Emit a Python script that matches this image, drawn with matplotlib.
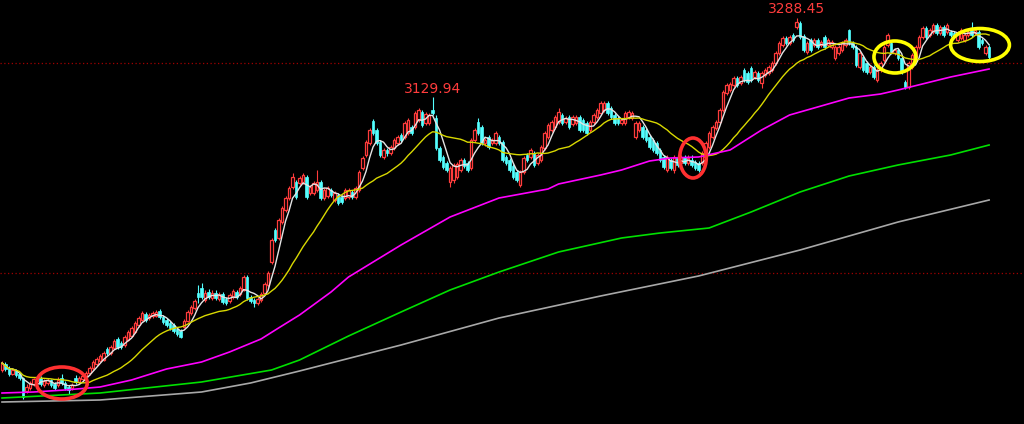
import numpy as np
import pandas as pd
import matplotlib
matplotlib.use("Agg")
import matplotlib.pyplot as plt
from matplotlib.patches import Ellipse

# daily candles
opens = [
    2584, 2596, 2588, 2576, 2584, 2576, 2568, 2542, 2548, 2556,
    2562, 2568, 2554, 2558, 2564, 2556, 2554, 2568, 2558, 2550,
    2548, 2568, 2560, 2566, 2568, 2578, 2588, 2596, 2602, 2604,
    2626, 2618, 2628, 2646, 2638, 2634, 2644, 2652, 2660, 2674,
    2684, 2696, 2688, 2692, 2692, 2702, 2690, 2684, 2678, 2674,
    2666, 2662, 2670, 2682, 2698, 2708, 2738, 2748, 2724, 2740,
    2728, 2738, 2726, 2736, 2726, 2722, 2730, 2740, 2736, 2744,
    2770, 2730, 2724, 2718, 2724, 2738, 2754, 2800, 2864, 2848,
    2880, 2904, 2928, 2950, 2960, 2958, 2960, 2970, 2938, 2938,
    2944, 2960, 2928, 2932, 2944, 2924, 2934, 2930, 2928, 2930,
    2940, 2930, 2944, 2988, 3014, 3038, 3082, 3064, 3040, 3010,
    3024, 3018, 3028, 3038, 3054, 3050, 3058, 3070, 3070, 3084,
    3100, 3078, 3078, 3104, 3088, 3028, 3010, 2998, 2960, 2964,
    2970, 2984, 3004, 2998, 2988, 3044, 3080, 3070, 3038, 3050,
    3038, 3038, 3050, 3040, 3010, 3004, 2992, 2980, 2954, 2980,
    3014, 3010, 3018, 2998, 3004, 3028, 3050, 3064, 3070, 3080,
    3094, 3080, 3090, 3076, 3078, 3090, 3084, 3078, 3064, 3080,
    3090, 3098, 3104, 3118, 3108, 3094, 3088, 3078, 3078, 3090,
    3088, 3050, 3064, 3070, 3064, 3050, 3044, 3038, 3024, 3010,
    2984, 3004, 2984, 3010, 2998, 3010, 2998, 3004, 3000, 2998,
    2998, 3010, 3030, 3050, 3068, 3080, 3104, 3138, 3144, 3154,
    3168, 3158, 3184, 3178, 3188, 3170, 3178, 3158, 3174, 3178,
    3184, 3198, 3218, 3234, 3248, 3238, 3254, 3270, 3278, 3252,
    3220, 3244, 3234, 3244, 3234, 3250, 3234, 3230, 3208, 3218,
    3224, 3234, 3264, 3238, 3230, 3190, 3210, 3198, 3180, 3190,
    3164, 3184, 3204, 3234, 3238, 3218, 3224, 3208, 3160, 3150,
    3190, 3210, 3230, 3250, 3268, 3254, 3260, 3274, 3258, 3270,
    3260, 3260, 3258, 3244, 3248, 3244, 3254, 3264, 3258, 3260,
    3244, 3218, 3230,
]
highs = [
    2602, 2600, 2592, 2588, 2586, 2580, 2570, 2556, 2562, 2568,
    2572, 2572, 2566, 2568, 2566, 2560, 2570, 2576, 2562, 2554,
    2558, 2574, 2572, 2576, 2582, 2592, 2604, 2610, 2616, 2622,
    2630, 2634, 2646, 2650, 2642, 2654, 2664, 2672, 2682, 2692,
    2702, 2700, 2698, 2702, 2704, 2706, 2694, 2688, 2682, 2678,
    2670, 2666, 2686, 2704, 2714, 2726, 2754, 2758, 2744, 2746,
    2744, 2744, 2740, 2740, 2730, 2738, 2746, 2744, 2752, 2774,
    2774, 2734, 2728, 2730, 2740, 2760, 2782, 2848, 2868, 2888,
    2912, 2932, 2952, 2978, 2964, 2972, 2978, 2974, 2954, 2962,
    2984, 2964, 2948, 2952, 2948, 2942, 2938, 2934, 2948, 2948,
    2944, 2952, 2984, 3012, 3044, 3068, 3086, 3068, 3044, 3028,
    3028, 3034, 3048, 3054, 3058, 3082, 3088, 3074, 3102, 3108,
    3104, 3100, 3098, 3129.94, 3094, 3032, 3014, 3002, 2992, 2998,
    3000, 3008, 3008, 3002, 3048, 3068, 3088, 3074, 3048, 3054,
    3048, 3062, 3054, 3044, 3014, 3008, 2996, 2984, 2984, 3012,
    3018, 3028, 3022, 3018, 3034, 3062, 3078, 3084, 3094, 3108,
    3098, 3092, 3094, 3094, 3094, 3094, 3088, 3082, 3084, 3098,
    3108, 3122, 3122, 3122, 3112, 3098, 3092, 3088, 3102, 3104,
    3102, 3082, 3082, 3074, 3068, 3054, 3048, 3042, 3028, 3014,
    3014, 3008, 3014, 3014, 3014, 3014, 3014, 3014, 3004, 3002,
    3022, 3042, 3062, 3074, 3084, 3108, 3144, 3158, 3160, 3172,
    3172, 3174, 3188, 3182, 3192, 3184, 3182, 3182, 3188, 3194,
    3202, 3222, 3242, 3252, 3252, 3254, 3258, 3288.45, 3282, 3256,
    3242, 3248, 3248, 3248, 3244, 3254, 3248, 3244, 3234, 3234,
    3242, 3248, 3266, 3242, 3234, 3222, 3214, 3202, 3194, 3194,
    3188, 3202, 3234, 3258, 3242, 3228, 3228, 3212, 3164, 3202,
    3218, 3234, 3254, 3272, 3272, 3268, 3278, 3278, 3274, 3274,
    3278, 3264, 3262, 3262, 3268, 3258, 3264, 3280, 3268, 3264,
    3248, 3234, 3234,
]
lows = [
    2580, 2582, 2572, 2574, 2570, 2564, 2526, 2538, 2544, 2552,
    2558, 2552, 2550, 2554, 2550, 2544, 2550, 2554, 2544, 2536,
    2544, 2556, 2556, 2562, 2566, 2574, 2584, 2592, 2600, 2602,
    2614, 2614, 2626, 2626, 2626, 2630, 2642, 2650, 2658, 2670,
    2682, 2680, 2684, 2688, 2690, 2686, 2676, 2670, 2664, 2658,
    2652, 2648, 2668, 2680, 2694, 2704, 2718, 2726, 2720, 2726,
    2724, 2724, 2722, 2716, 2714, 2718, 2726, 2726, 2732, 2742,
    2724, 2718, 2710, 2714, 2720, 2734, 2750, 2796, 2840, 2844,
    2876, 2900, 2924, 2946, 2926, 2954, 2956, 2926, 2934, 2934,
    2940, 2924, 2924, 2928, 2930, 2920, 2914, 2916, 2924, 2926,
    2926, 2926, 2940, 2984, 3010, 3034, 3054, 3034, 3010, 3006,
    3012, 3014, 3024, 3034, 3040, 3046, 3054, 3054, 3066, 3080,
    3070, 3074, 3074, 3094, 3024, 3000, 2986, 2980, 2950, 2958,
    2966, 2980, 2988, 2980, 2984, 3040, 3054, 3034, 3032, 3026,
    3034, 3034, 3034, 3000, 2994, 2980, 2966, 2960, 2950, 2976,
    3000, 3006, 2990, 2994, 3000, 3024, 3046, 3060, 3066, 3076,
    3074, 3076, 3066, 3072, 3074, 3060, 3060, 3054, 3060, 3076,
    3086, 3094, 3100, 3094, 3086, 3074, 3074, 3074, 3074, 3086,
    3084, 3046, 3060, 3046, 3040, 3026, 3020, 3014, 3000, 2986,
    2980, 2984, 2978, 2990, 2994, 2994, 2994, 2990, 2984, 2980,
    2994, 3006, 3026, 3046, 3064, 3076, 3100, 3134, 3140, 3150,
    3150, 3154, 3160, 3156, 3160, 3166, 3160, 3148, 3170, 3174,
    3180, 3194, 3214, 3230, 3234, 3234, 3240, 3266, 3246, 3220,
    3216, 3220, 3230, 3226, 3230, 3226, 3230, 3226, 3204, 3214,
    3220, 3230, 3234, 3226, 3190, 3186, 3180, 3176, 3176, 3166,
    3160, 3180, 3200, 3230, 3216, 3214, 3204, 3176, 3146, 3146,
    3186, 3206, 3226, 3246, 3246, 3250, 3256, 3254, 3254, 3250,
    3256, 3250, 3248, 3240, 3244, 3240, 3250, 3250, 3254, 3226,
    3234, 3214, 3204,
]
closes = [
    2598, 2586, 2576, 2584, 2574, 2568, 2530, 2550, 2558, 2566,
    2568, 2556, 2562, 2564, 2554, 2548, 2564, 2558, 2548, 2544,
    2554, 2560, 2568, 2572, 2578, 2588, 2600, 2606, 2612, 2618,
    2618, 2630, 2642, 2630, 2630, 2650, 2660, 2668, 2678, 2688,
    2698, 2684, 2694, 2698, 2700, 2690, 2680, 2674, 2668, 2662,
    2656, 2650, 2682, 2700, 2710, 2722, 2730, 2730, 2738, 2730,
    2738, 2728, 2736, 2720, 2718, 2734, 2742, 2730, 2748, 2770,
    2728, 2722, 2718, 2726, 2736, 2756, 2778, 2844, 2844, 2884,
    2908, 2928, 2948, 2970, 2930, 2968, 2974, 2930, 2950, 2958,
    2960, 2928, 2944, 2948, 2934, 2938, 2918, 2920, 2944, 2944,
    2930, 2948, 2980, 3008, 3040, 3064, 3058, 3038, 3014, 3024,
    3018, 3030, 3044, 3050, 3044, 3078, 3084, 3058, 3098, 3104,
    3074, 3096, 3094, 3098, 3028, 3004, 2990, 2984, 2988, 2994,
    2996, 3004, 2992, 2984, 3044, 3064, 3058, 3038, 3044, 3030,
    3044, 3058, 3038, 3004, 2998, 2984, 2970, 2964, 2980, 3008,
    3004, 3024, 2994, 3014, 3030, 3058, 3074, 3080, 3090, 3100,
    3078, 3088, 3070, 3090, 3090, 3064, 3064, 3058, 3080, 3094,
    3104, 3118, 3118, 3098, 3090, 3078, 3078, 3084, 3098, 3100,
    3098, 3078, 3078, 3050, 3044, 3030, 3024, 3018, 3004, 2990,
    3010, 2988, 3010, 2994, 3010, 2998, 3008, 2994, 2988, 2984,
    3018, 3038, 3058, 3070, 3080, 3104, 3140, 3154, 3156, 3168,
    3154, 3170, 3164, 3160, 3164, 3180, 3164, 3178, 3184, 3190,
    3198, 3218, 3238, 3248, 3238, 3250, 3244, 3280, 3250, 3224,
    3238, 3224, 3244, 3230, 3240, 3230, 3244, 3240, 3230, 3230,
    3238, 3244, 3238, 3230, 3194, 3218, 3184, 3180, 3190, 3170,
    3184, 3198, 3230, 3254, 3220, 3224, 3208, 3180, 3150, 3198,
    3214, 3230, 3250, 3268, 3250, 3264, 3274, 3258, 3270, 3254,
    3274, 3254, 3252, 3258, 3264, 3254, 3260, 3254, 3264, 3230,
    3238, 3230, 3210,
]

# long moving averages (their history starts before the window), read at some candles
ma_long1_idx = [0, 9, 18, 28, 37, 47, 57, 65, 74, 79, 85, 94, 99, 114, 128, 142,
                156, 159, 171, 177, 185, 191, 199, 208, 217, 225, 235, 242, 251,
                256, 271, 282]
ma_long1 = [2538, 2540, 2544, 2550, 2564, 2586, 2600, 2620, 2646, 2668, 2694,
            2740, 2770, 2834, 2890, 2928, 2946, 2956, 2974, 2984, 3002, 3008,
            3010, 3024, 3064, 3094, 3114, 3128, 3136, 3144, 3170, 3186]
ma_long2_idx = [0, 28, 57, 77, 85, 99, 114, 128, 142, 159, 177, 188, 202, 214,
                228, 242, 256, 271, 282]
ma_long2 = [2528, 2538, 2560, 2584, 2604, 2652, 2700, 2744, 2780, 2820, 2848,
            2858, 2868, 2900, 2940, 2972, 2994, 3014, 3034]
ma_long3_idx = [0, 28, 57, 71, 85, 114, 142, 171, 199, 228, 256, 282]
ma_long3 = [2520, 2524, 2540, 2558, 2582, 2634, 2688, 2732, 2772, 2824, 2880, 2924]

peak_labels = [(123, 3129.94), (227, 3288.45)]
grid_levels = [3198, 2778]
# marked spots: candle index, price, width (candles), height (price), colour
circles = [
    (17.1, 2558, 14.5, 64, '#ff3030'),
    (197.4, 3008, 7.6, 80, '#ff3030'),
    (255.1, 3210, 12.0, 64, '#ffff00'),
    (279.4, 3234, 16.8, 66, '#ffff00'),
]

RED = '#ff3c3c'
CYAN = '#54ffff'

o = np.array(opens, float)
h = np.array(highs, float)
l = np.array(lows, float)
c = np.array(closes, float)
x = np.arange(len(c))
up = c >= o

fig = plt.figure(figsize=(10.24, 4.24), dpi=100, facecolor='black')
ax = fig.add_axes([0, 0, 1, 1])
ax.set_facecolor('black')

for lv in grid_levels:
    ax.axhline(lv, color='#a00000', lw=0.9, ls=(0, (1, 2)), zorder=1)

top = np.maximum(o, c)
bot = np.minimum(o, c)
# wicks
ax.vlines(x[up], top[up], h[up], color=RED, lw=0.8, zorder=2)
ax.vlines(x[up], l[up], bot[up], color=RED, lw=0.8, zorder=2)
ax.vlines(x[~up], l[~up], h[~up], color=CYAN, lw=0.8, zorder=2)
# bodies: hollow red for rising days, solid cyan for falling days
body = np.maximum(top - bot, 1.5)
ax.bar(x[up], body[up], bottom=bot[up], width=0.78, color='black',
       edgecolor=RED, linewidth=0.9, zorder=3)
ax.bar(x[~up], body[~up], bottom=bot[~up], width=0.78, color=CYAN,
       edgecolor=CYAN, linewidth=0.5, zorder=3)

s = pd.Series(c)
ma5 = s.rolling(5, min_periods=1).mean()
ma20 = s.rolling(20, min_periods=1).mean()
ax.plot(x, ma5, color='#e4e4e4', lw=1.0, zorder=4)
ax.plot(x, ma20, color='#d8d800', lw=1.0, zorder=4)
ax.plot(ma_long1_idx, ma_long1, color='#ff00ff', lw=1.2, zorder=4)
ax.plot(ma_long2_idx, ma_long2, color='#00e000', lw=1.2, zorder=4)
ax.plot(ma_long3_idx, ma_long3, color='#a8a8a8', lw=1.2, zorder=4)

for i, v in peak_labels:
    ax.annotate(f"{v:.2f}", xy=(i, v), xytext=(0, 1), textcoords='offset points',
                ha='center', va='bottom', color=RED, fontsize=10)

for cx, cy, w, hh, col in circles:
    ax.add_patch(Ellipse((cx, cy), w, hh, fill=False, edgecolor=col, lw=2.6, zorder=5))

ax.set_xlim(-0.571, 291.97)
ax.set_ylim(2476, 3324)
ax.axis('off')

fig.savefig('out.png', dpi=100, facecolor='black')
